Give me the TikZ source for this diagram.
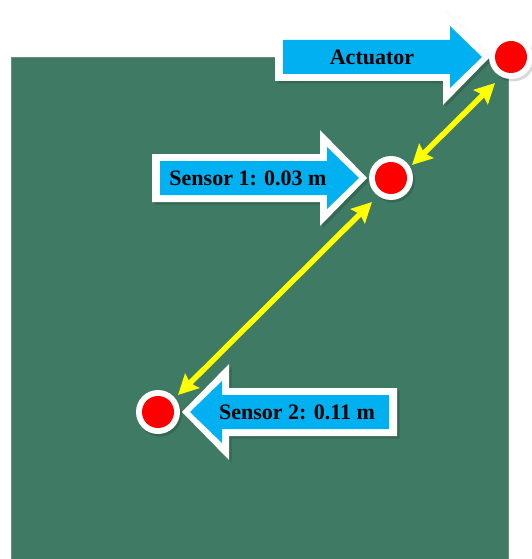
\documentclass[tikz,border=0pt]{standalone}
\usepackage{fontspec}
\setmainfont{Liberation Serif}
\usetikzlibrary{arrows.meta,calc}

\definecolor{board}{HTML}{3F7A65}
\definecolor{boardedge}{HTML}{6E8C82}
\definecolor{labelblue}{HTML}{00B0F0}
\definecolor{dotred}{HTML}{FF0000}
\definecolor{linkyellow}{HTML}{FFFF00}

\tikzset{
  shadowfill/.style={fill=black, opacity=0.15},
  outlinefill/.style={fill=white},
  bluefill/.style={fill=labelblue},
  labeltext/.style={font=\bfseries\fontsize{22}{24}\selectfont, text=black, inner sep=0pt},
  dotring/.style={circle, fill=white, minimum size=44pt, inner sep=0pt},
  dotcore/.style={circle, fill=dotred, minimum size=32pt, inner sep=0pt},
  link/.style={draw=linkyellow, line width=5.5pt,
    {Stealth[length=20pt,width=20pt,inset=3pt]}-{Stealth[length=20pt,width=20pt,inset=3pt]}}
}

% block arrow outline polygon, tip at the local origin, pointing along +x
\newcommand{\arrowpath}{(0,0) -- (-47,48) -- (-47,24) -- (-215,24) -- (-215,-24)
        -- (-47,-24) -- (-47,-48) -- cycle}
% block arrow with white rim; #1 is the shadow's x offset in local units
\newcommand{\blockarrow}[1]{%
  \fill[shadowfill, shift={(#1,2.5)}] \arrowpath;
  \fill[outlinefill] \arrowpath;
  \fill[bluefill] (-8,0) -- (-40,31) -- (-40,17) -- (-207,17) -- (-207,-17)
        -- (-40,-17) -- (-40,-31) -- cycle;
}

\begin{document}
\begin{tikzpicture}[x=1pt, y=-1pt]
  \useasboundingbox (0,0) rectangle (532,559);

  % board
  \fill[board] (11,58) rectangle (508,562);
  \draw[boardedge, line width=1pt] (11,562) -- (11,58) -- (508,58) -- (508,562);

  % label arrows
  \begin{scope}[shift={(490,57)}]
    \blockarrow{2.5}
  \end{scope}
  \begin{scope}[shift={(367,178)}]
    \blockarrow{2.5}
  \end{scope}
  \begin{scope}[shift={(182,412)}, xscale=-1]
    \blockarrow{-2.5}
  \end{scope}

  \node[labeltext] (lact) at (372,57) {Actuator};
  \node[labeltext] (ls1) at (248,178) {Sensor 1: 0.03 m};
  \node[labeltext] (ls2) at (297,412) {Sensor 2: 0.11 m};

  % measurement points
  \fill[black, opacity=0.15] (513,59.5) circle (22);
  \fill[black, opacity=0.15] (393,180.5) circle (22);
  \fill[black, opacity=0.15] (160,414.5) circle (22);
  \node[dotring] (act) at (511,57) {};
  \node[dotring] (s1) at (391,178) {};
  \node[dotring] (s2) at (158,412) {};
  \node[dotcore] (actc) at (act) {};
  \node[dotcore] (s1c) at (s1) {};
  \node[dotcore] (s2c) at (s2) {};

  % distance links between the points
  \coordinate (l1a) at ($(act)+(-16,26)$);
  \coordinate (l1b) at ($(s1)+(21,-13)$);
  \coordinate (l2a) at ($(s1)+(-19,24)$);
  \coordinate (l2b) at ($(s2)+(20,-17)$);
  \draw[link] (l1a) -- (l1b);
  \draw[link] (l2a) -- (l2b);
\end{tikzpicture}
\end{document}
